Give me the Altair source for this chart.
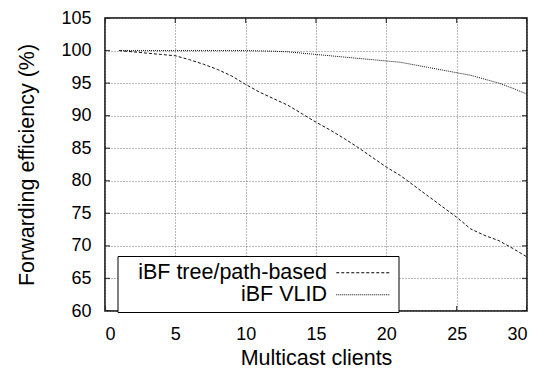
import altair as alt
import pandas as pd

# ---- data ----
clients = list(range(1, 31))
tree_path = [100.0, 99.8, 99.6, 99.4, 99.2, 98.6, 97.9, 97.1, 96.1, 94.8,
             93.6, 92.6, 91.6, 90.3, 89.0, 87.8, 86.5, 85.1, 83.6, 82.1,
             80.8, 79.2, 77.6, 76.0, 74.4, 72.6, 71.6, 70.8, 69.6, 68.3]
vlid = [100.0, 100.0, 100.0, 100.0, 100.0, 100.0, 100.0, 100.0, 100.0, 100.0,
        99.95, 99.9, 99.8, 99.6, 99.4, 99.2, 99.0, 98.8, 98.6, 98.4,
        98.2, 97.8, 97.4, 97.0, 96.6, 96.2, 95.6, 95.0, 94.2, 93.3]
series_names = ["iBF tree/path-based", "iBF VLID"]
x_ticks = [0, 5, 10, 15, 20, 25, 30]
y_ticks = [60, 65, 70, 75, 80, 85, 90, 95, 100, 105]
x_edges = [0, 30]
y_edges = [60, 105]

rows = []
for c, t, v in zip(clients, tree_path, vlid):
    rows.append({"clients": c, "eff": t, "series": series_names[0]})
    rows.append({"clients": c, "eff": v, "series": series_names[1]})
df = pd.DataFrame(rows)

xtick_df = pd.DataFrame([{"clients": x, "eff": y} for x in x_ticks for y in y_edges])
ytick_df = pd.DataFrame([{"clients": x, "eff": y} for x in x_edges for y in y_ticks])

FONT = "Liberation Sans"
W, H = 422, 293
xscale = alt.Scale(domain=[0, 30], nice=False, zero=False)
yscale = alt.Scale(domain=[60, 105], nice=False, zero=False)
xaxis = alt.Axis(values=x_ticks, title="Multicast clients",
                 titleX=W / 2, titleY=53, titleBaseline="alphabetic",
                 titleAlign="center")
yaxis = alt.Axis(values=y_ticks, title="Forwarding efficiency (%)",
                 titleX=-72, titleY=H / 2, titleBaseline="alphabetic",
                 titleAlign="center", titleAngle=270)

lines = alt.Chart(df).mark_line(strokeWidth=1, clip=True, color="#111111").encode(
    x=alt.X("clients:Q", scale=xscale, axis=xaxis),
    y=alt.Y("eff:Q", scale=yscale, axis=yaxis),
    strokeDash=alt.StrokeDash(
        "series:N", title=None,
        scale=alt.Scale(domain=series_names, range=[[3, 2], [1, 1]]),
        legend=alt.Legend(orient="none", legendX=12.5, legendY=H - 55,
                          symbolType="M-4,0H4", symbolSize=182,
                          symbolStrokeWidth=1, symbolStrokeColor="black",
                          symbolOffset=229, labelAlign="right",
                          labelOffset={"expr": "-47"},
                          labelFont=FONT, labelFontSize=21.5, labelColor="black",
                          labelBaseline="middle", labelLimit=400,
                          rowPadding=-2, padding=6,
                          strokeColor="black", fillColor="white",
                          cornerRadius=0)),
)

xt = alt.Chart(xtick_df).mark_tick(orient="vertical", size=10, thickness=1.3,
                                   color="black", clip=True).encode(
    x=alt.X("clients:Q", scale=xscale, axis=xaxis),
    y=alt.Y("eff:Q", scale=yscale, axis=yaxis),
)
yt = alt.Chart(ytick_df).mark_tick(orient="horizontal", size=10, thickness=1.3,
                                   color="black", clip=True).encode(
    x=alt.X("clients:Q", scale=xscale, axis=xaxis),
    y=alt.Y("eff:Q", scale=yscale, axis=yaxis),
)

chart = alt.layer(lines, xt, yt).properties(
    width=W, height=H,
    autosize=alt.AutoSizeParams(type="none"),
    padding={"left": 97, "top": 10, "right": 15, "bottom": 59},
).configure_view(
    stroke="black", strokeWidth=1.5
).configure_axis(
    domain=False, ticks=False, tickSize=0, grid=True,
    gridColor="#777777", gridDash=[1, 2], gridWidth=1, gridOpacity=1,
    labelFont=FONT, labelFontSize=18, labelColor="black", labelPadding=14,
    titleFont=FONT, titleFontSize=21.5, titleFontWeight="normal", titleColor="black",
)

chart.save("out.html", embed_options={"renderer": "svg", "actions": False})
